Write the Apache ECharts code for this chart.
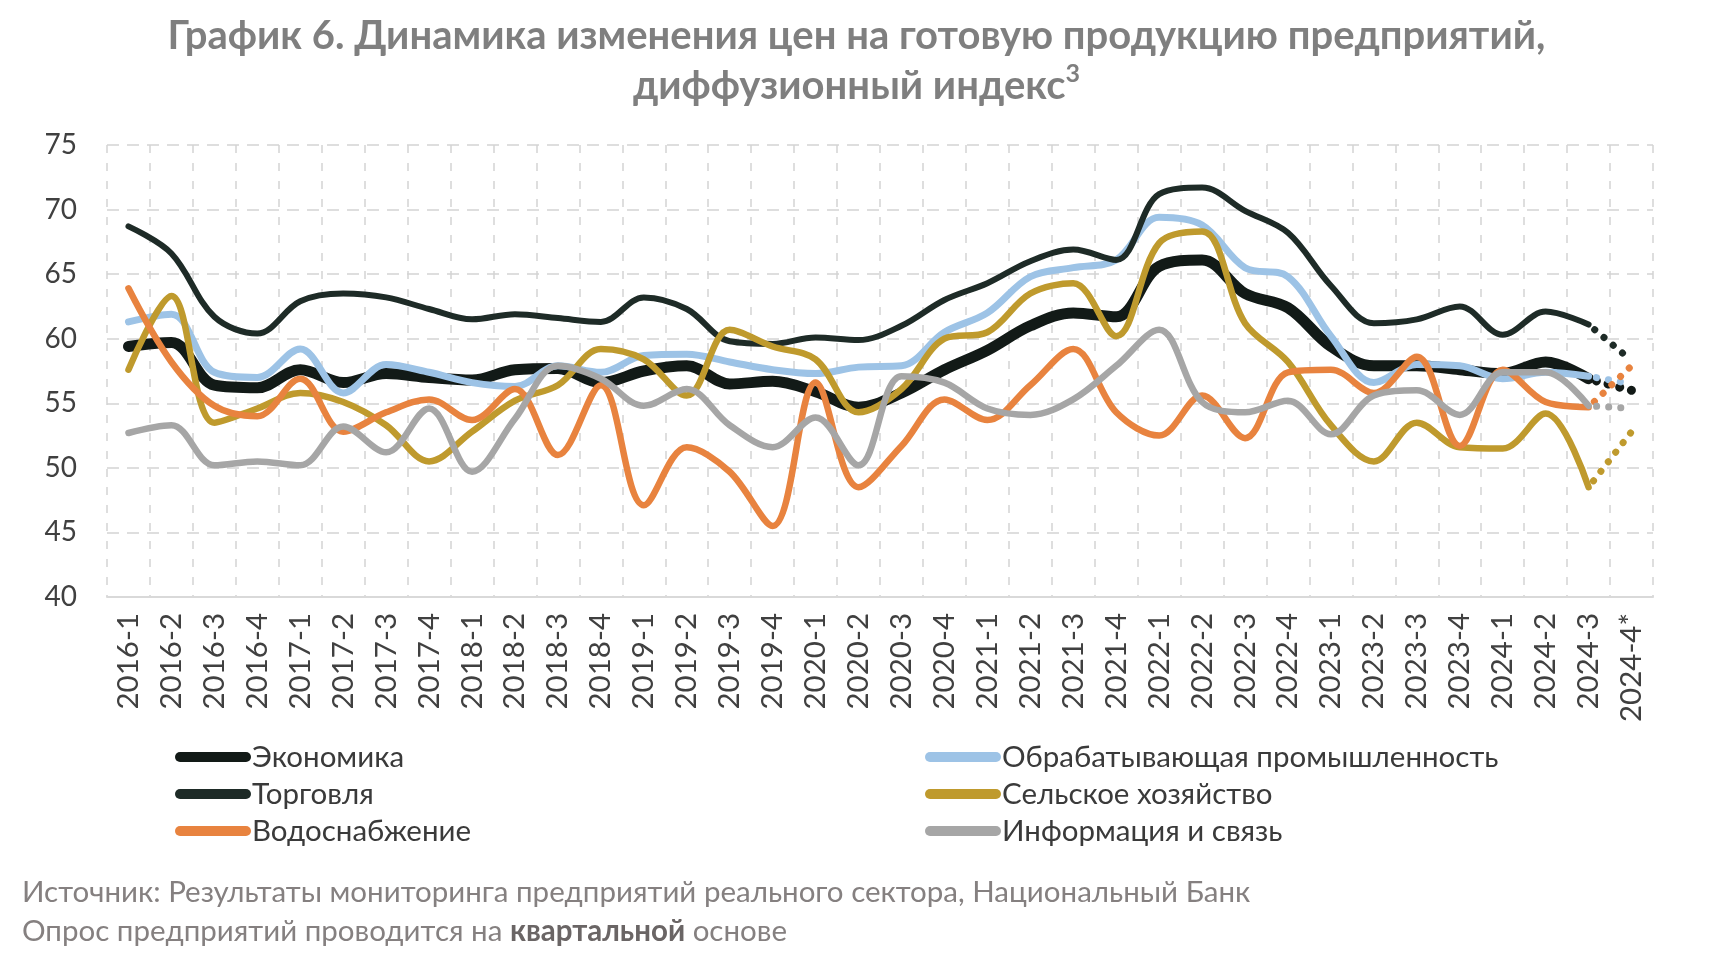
<!DOCTYPE html>
<html>
<head>
<meta charset="utf-8">
<script src="https://cdn.jsdelivr.net/npm/echarts@6/dist/echarts.min.js"></script>
<style>
html,body{margin:0;padding:0;background:#fff;}
#chart{width:1713px;height:967px;}
</style>
</head>
<body>
<div id="chart"></div>
<script>
const categories = ['2016-1','2016-2','2016-3','2016-4','2017-1','2017-2','2017-3','2017-4',
  '2018-1','2018-2','2018-3','2018-4','2019-1','2019-2','2019-3','2019-4',
  '2020-1','2020-2','2020-3','2020-4','2021-1','2021-2','2021-3','2021-4',
  '2022-1','2022-2','2022-3','2022-4','2023-1','2023-2','2023-3','2023-4',
  '2024-1','2024-2','2024-3','2024-4*'];

const economy = [59.4,59.7,56.4,56.2,57.6,56.6,57.3,57.0,56.8,57.6,57.7,56.6,57.5,57.9,56.5,56.7,55.9,54.7,55.8,57.6,59.1,61.0,62.0,61.7,65.6,66.1,63.5,62.4,59.4,57.9,57.9,57.6,57.3,58.2,56.9];
const manufacturing = [61.3,61.9,57.4,57.0,59.2,55.8,58.0,57.4,56.6,56.3,57.9,57.4,58.7,58.8,58.2,57.6,57.3,57.8,57.9,60.5,62.0,64.8,65.5,66.1,69.4,68.8,65.5,64.8,60.2,56.6,58.0,57.9,56.9,57.4,57.1];
const trade = [68.7,66.6,61.7,60.4,62.9,63.5,63.2,62.3,61.5,61.9,61.6,61.3,63.2,62.3,59.8,59.6,60.1,59.9,61.0,63.0,64.3,66.0,66.9,66.1,71.2,71.7,69.9,68.2,64.1,61.2,61.5,62.5,60.3,62.1,61.1];
const agriculture = [57.6,63.3,53.5,54.6,55.8,55.1,53.3,50.5,52.8,55.2,56.4,59.2,58.4,55.6,60.7,59.4,58.4,54.3,56.1,60.0,60.5,63.5,64.3,60.2,67.4,68.3,61.2,58.2,53.3,50.5,53.5,51.6,51.5,54.2,48.5];
const water = [63.9,58.2,54.8,54.0,56.9,52.8,54.3,55.3,53.7,56.1,51.0,56.4,47.1,51.6,49.7,45.5,56.6,48.5,51.7,55.3,53.7,56.4,59.2,54.3,52.5,55.6,52.3,57.4,57.6,55.8,58.6,51.7,57.6,55.1,54.7];
const infoComm = [52.7,53.3,50.2,50.5,50.2,53.2,51.2,54.6,49.7,53.8,57.9,56.9,54.8,56.1,53.3,51.6,53.9,50.2,57.1,56.6,54.6,54.1,55.3,57.9,60.7,55.1,54.3,55.2,52.6,55.6,56.0,54.1,57.4,57.4,54.8];

// forecast for 2024-4*
const forecast = { economy: 56.0, manufacturing: 56.5, trade: 58.3, agriculture: 52.8, water: 57.9, infoComm: 54.6 };

const yTicks = [40,45,50,55,60,65,70,75];

const seriesDefs = [
  { name: 'Экономика', data: economy, fc: forecast.economy, color: '#121a17', width: 11 },
  { name: 'Обрабатывающая промышленность', data: manufacturing, fc: forecast.manufacturing, color: '#9dc3e6', width: 7 },
  { name: 'Торговля', data: trade, fc: forecast.trade, color: '#1e2b27', width: 6 },
  { name: 'Сельское хозяйство', data: agriculture, fc: forecast.agriculture, color: '#bf9a2d', width: 6.5 },
  { name: 'Водоснабжение', data: water, fc: forecast.water, color: '#e8833f', width: 6.5 },
  { name: 'Информация и связь', data: infoComm, fc: forecast.infoComm, color: '#a6a6a6', width: 6.5 }
];

const FONT = 'Lato, "Open Sans", sans-serif';
const series = [];
seriesDefs.forEach(function (s) {
  series.push({
    name: s.name, type: 'line', smooth: 0.35, symbol: 'none',
    data: s.data,
    lineStyle: { color: s.color, width: s.width, cap: 'round' },
    itemStyle: { color: s.color },
    z: 3
  });
  const fcData = categories.map(function () { return null; });
  fcData[s.data.length - 1] = s.data[s.data.length - 1];
  fcData[s.data.length] = s.fc;
  series.push({
    name: s.name + ' (прогноз)', type: 'line', symbol: 'none',
    data: fcData,
    lineStyle: { color: s.color, width: s.width === 11 ? 9 : 7, type: [0.1, 12], cap: 'round', dashOffset: -8 },
    itemStyle: { color: s.color },
    z: 3
  });
});

const capsule = 'path://M5,0 L71,0 A5,5 0 0 1 71,10 L5,10 A5,5 0 0 1 5,0 Z';
const legendCommon = {
  orient: 'vertical', icon: capsule, itemWidth: 76, itemHeight: 10, itemGap: 7,
  selectedMode: false,
  textStyle: { fontFamily: FONT, fontSize: 29.5, color: '#3a3a3a', lineHeight: 30, padding: [0,0,0,-4] }
};

const chart = echarts.init(document.getElementById('chart'), null, { renderer: 'canvas' });
chart.setOption({
  backgroundColor: '#ffffff',
  animation: false,
  title: {
    text: 'График 6. Динамика изменения цен на готовую продукцию предприятий,\nдиффузионный индекс{sup|3}',
    left: 'center', top: 6,
    textStyle: {
      fontFamily: FONT, fontSize: 40, fontWeight: 'bold', color: '#7f7f7f', lineHeight: 50,
      rich: { sup: { fontFamily: FONT, fontSize: 25, fontWeight: 'bold', color: '#7f7f7f', verticalAlign: 'top', lineHeight: 30, padding: [0,0,12,0] } }
    }
  },
  legend: [
    Object.assign({ left: 170, top: 737, data: ['Экономика', 'Торговля', 'Водоснабжение'] }, legendCommon),
    Object.assign({ left: 920, top: 737, data: ['Обрабатывающая промышленность', 'Сельское хозяйство', 'Информация и связь'] }, legendCommon)
  ],
  grid: { left: 107, right: 60, top: 145, bottom: 370, containLabel: false },
  xAxis: {
    type: 'category', data: categories, boundaryGap: true,
    axisLine: { show: true, lineStyle: { color: '#d9d9d9', width: 2 } },
    axisTick: { show: false },
    axisLabel: { rotate: 90, interval: 0, margin: 16, fontFamily: FONT, fontSize: 29.5, color: '#404040' },
    splitLine: { show: true, interval: 0, lineStyle: { color: '#d4d4d4', width: 1.5, type: [8, 10] } }
  },
  yAxis: {
    type: 'value', min: yTicks[0], max: yTicks[yTicks.length - 1], interval: 5,
    axisLine: { show: false }, axisTick: { show: false },
    axisLabel: { margin: 30, fontFamily: FONT, fontSize: 28, color: '#404040' },
    splitLine: { show: true, lineStyle: { color: '#d4d4d4', width: 1.5, type: [12, 8] } }
  },
  graphic: [
    { type: 'text', left: 22, top: 877, style: { text: 'Источник: Результаты мониторинга предприятий реального сектора, Национальный Банк', fontFamily: FONT, fontSize: 29.5, fill: '#858080' } },
    { type: 'text', left: 22, top: 916, style: {
      text: 'Опрос предприятий проводится на {b|квартальной} основе', fontFamily: FONT, fontSize: 29.5, fill: '#858080',
      rich: { b: { fontFamily: FONT, fontSize: 29.5, fontWeight: 'bold', fill: '#6a6565' } } } }
  ],
  series: series
});
</script>
</body>
</html>
